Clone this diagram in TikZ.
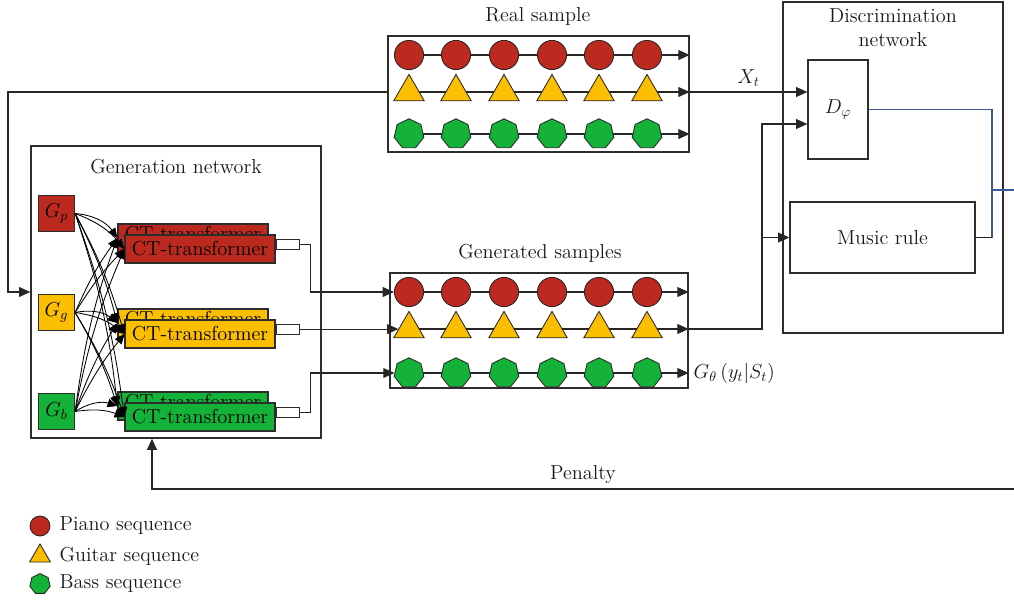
\documentclass[tikz,border=0pt]{standalone}
\usepackage{amsmath, amssymb}
\usepackage{tikz}
\usetikzlibrary{shapes.geometric, arrows.meta, positioning, backgrounds}
\usepackage{xcolor}

\definecolor{pianored}{RGB}{187,41,31}
\definecolor{guitaryellow}{RGB}{251,190,0}
\definecolor{bassgreen}{RGB}{20,178,57}
\definecolor{mixblue}{RGB}{58,88,150}
\definecolor{framegray}{RGB}{45,45,45}

\tikzset{
    txt/.style={font=\fontsize{14.4}{17.5}\selectfont, text=black!90},
    frame/.style={draw=framegray, line width=0.9pt, inner sep=0pt},
    wire/.style={draw=black!85, line width=0.8pt},
    flow/.style={wire, -{Triangle[length=8pt,width=7pt]}},
    blueline/.style={draw=mixblue, line width=0.8pt},
    gedge/.style={draw=black, line width=0.6pt, -{Triangle[length=7pt,width=6pt]}},
    seq/.style={draw=black!85, line width=0.6pt, inner sep=0pt},
    piano/.style={seq, circle, fill=pianored, minimum size=0.73cm},
    guitar/.style={seq, regular polygon, regular polygon sides=3, fill=guitaryellow, minimum size=0.88cm},
    bass/.style={seq, regular polygon, regular polygon sides=7, fill=bassgreen, minimum size=0.76cm},
    gbox/.style={frame, minimum size=0.9cm, font=\fontsize{14.4}{17}\selectfont},
    ctbox/.style={frame, minimum width=3.75cm, minimum height=0.7cm, font=\fontsize{14.4}{17}\selectfont},
    port/.style={frame, fill=white, minimum width=0.575cm, minimum height=0.25cm, line width=0.7pt},
}

\begin{document}
\begin{tikzpicture}[x=0.025cm, y=-0.025cm]
    \useasboundingbox (0,0) rectangle (1014,601);

    % Sample boxes with their three note rows
    \node[frame, minimum width=7.525cm, minimum height=2.9cm] (real) at (538.5,94) {};
    \node[txt] (realtitle) at (538,16) {Real sample};
    \node[frame, minimum width=7.45cm, minimum height=2.875cm] (gen) at (539,330.5) {};
    \node[txt] (gentitle) at (540,253) {Generated samples};

    \foreach \i/\xx in {1/409, 2/456, 3/504, 4/552, 5/599, 6/647} {
        \node[piano]  (rp\i) at (\xx,55) {};
        \node[guitar] (rg\i) at (\xx,92) {};
        \node[bass]   (rb\i) at (\xx,134) {};
        \node[piano]  (sp\i) at (\xx,292) {};
        \node[guitar] (sg\i) at (\xx,329) {};
        \node[bass]   (sb\i) at (\xx,373) {};
    }

    \begin{scope}[on background layer]
        \foreach \r in {rp,rg,rb}
            \draw[flow] (\r1.center) -- (real.east |- \r1);
        \foreach \r in {sp,sg,sb}
            \draw[flow] (\r1.center) -- (gen.east |- \r1);
    \end{scope}

    % Generation network
    \node[frame, minimum width=7.25cm, minimum height=7.3cm] (gennet) at (176,292) {};
    \node[txt] (gennettitle) at (176,167) {Generation network};

    \node[gbox, fill=pianored]     (Gp) at (56.5,213.5) {$G_p$};
    \node[gbox, fill=guitaryellow] (Gg) at (56.5,312.5) {$G_g$};
    \node[gbox, fill=bassgreen]    (Gb) at (56.5,411.5) {$G_b$};

    \foreach \c/\col/\yy in {p/pianored/249, g/guitaryellow/334, b/bassgreen/417} {
        \node[ctbox, fill=\col, text depth=6pt] (ctback\c) at (193,\yy-11) {CT-transformer};
        \node[ctbox, fill=\col] (ct\c) at (200,\yy) {CT-transformer};
        \node[port, anchor=west] (port\c) at ([yshift=3.5pt]ct\c.east) {};
    }

    % Every generator feeds every transformer
    \foreach \s in {p,g,b} {
        \draw[gedge] (G\s.east) to[bend left=25] (ctback\s.west);
        \draw[gedge] (G\s.east) to[bend left=15] (ct\s.west);
    }
    \foreach \s/\t in {p/g, p/b, g/p, g/b, b/p, b/g} {
        \draw[gedge] (G\s.east) to[bend left=6] (ctback\t.west);
        \draw[gedge] (G\s.east) to[bend left=6] (ct\t.west);
    }

    % Transformer outputs into the generated rows
    \draw[flow] (portp.east) -- ++(11,0) |- (sp1.west);
    \draw[flow] (portg.east) -- (sg1.west |- portg.east);
    \draw[flow] (portb.east) -- ++(11,0) |- (sb1.west);

    % Discrimination network
    \node[frame, minimum width=5.5cm, minimum height=8.275cm] (disc) at (893,167.5) {};
    \node[txt, align=center] (disctitle) at (893,27.5) {Discrimination\\network};
    \node[frame, txt, minimum width=1.5cm, minimum height=2.475cm] (dnet) at (838,109.5) {$D_{\varphi}$};
    \node[frame, txt, minimum width=4.625cm, minimum height=1.775cm] (music) at (882.5,237.5) {Music rule};

    % Real sample goes to the generator and the discriminator
    \coordinate (feedcorner) at (8,92);
    \draw[flow] (real.west |- rg1) -- (feedcorner) |- (gennet.west);
    \draw[flow] (real.east |- rg1) -- (dnet.west |- rg1) node[midway, above, txt] {$X_t$};

    % Generated samples go to the discriminator and the music rule
    \coordinate (split) at (762,124);
    \draw[flow] (gen.east |- sg1) -| (split) -- (dnet.west |- split);
    \draw[flow] (split |- music.west) -- (music.west);
    \node[txt, anchor=west] (glabel) at (gen.east |- sb1) {$G_{\theta}\,(y_t|S_t)$};

    % Outputs merged and fed back as penalty
    \coordinate (merge) at (992,190);
    \coordinate (discout) at (1014,190);
    \draw[blueline] (dnet.east) -| (merge) -- (merge |- music.east);
    \draw[wire] (music.east) -- (merge |- music.east);
    \draw[blueline] (merge) -- (discout);

    \coordinate (penstart) at (1014,489);
    \draw[flow] (penstart) -| ([xshift=-0.6cm]gennet.south) node[pos=0.25, above, txt] {Penalty};

    % Legend
    \node[piano, minimum size=0.5cm] (keyp) at (40,526) {};
    \node[guitar, minimum size=0.6cm] (keyg) at (40,556) {};
    \node[bass, minimum size=0.52cm] (keyb) at (40,584) {};
    \node[txt, right=3pt of keyp] (keyptext) {Piano sequence};
    \node[txt, anchor=west] (keygtext) at (keyptext.west |- keyg) {Guitar sequence};
    \node[txt, anchor=west] (keybtext) at (keyptext.west |- keyb) {Bass sequence};
\end{tikzpicture}
\end{document}
